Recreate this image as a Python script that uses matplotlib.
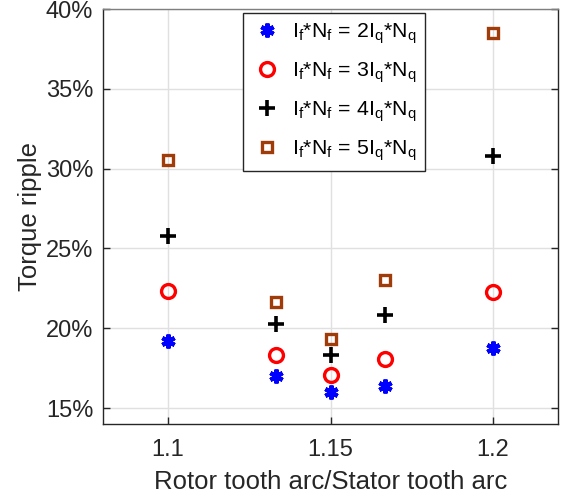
import matplotlib
matplotlib.use("Agg")
import matplotlib.pyplot as plt
from matplotlib.ticker import FuncFormatter

plt.rcParams['font.family'] = ['Liberation Sans', 'DejaVu Sans']
plt.rcParams['mathtext.fontset'] = 'custom'
plt.rcParams['mathtext.rm'] = 'Liberation Sans'
plt.rcParams['mathtext.it'] = 'Liberation Sans'

ratio = [1.1, 1.1333, 1.15, 1.1667, 1.2]
ripple_2 = [19.2, 17.0, 16.0, 16.35, 18.75]
ripple_3 = [22.35, 18.35, 17.05, 18.05, 22.3]
ripple_4 = [25.75, 20.25, 18.35, 20.85, 30.8]
ripple_5 = [30.55, 21.65, 19.35, 23.05, 38.5]
labels = [r'$\mathregular{I_f{*}N_f\,=\,2I_q{*}N_q}$',
          r'$\mathregular{I_f{*}N_f\,=\,3I_q{*}N_q}$',
          r'$\mathregular{I_f{*}N_f\,=\,4I_q{*}N_q}$',
          r'$\mathregular{I_f{*}N_f\,=\,5I_q{*}N_q}$']

fig = plt.figure(figsize=(5.61, 4.98), dpi=100)
ax = fig.add_axes([103/561, 74/498, 455/561, 415/498])

ax.plot(ratio, ripple_2, linestyle='none', marker=(6, 2, 0), markersize=10,
        markeredgewidth=3.0, color='#0000ff', label=labels[0])
ax.plot(ratio, ripple_3, linestyle='none', marker='o', markersize=10,
        markeredgewidth=2.4, markerfacecolor='none', markeredgecolor='#ff0000', label=labels[1])
ax.plot(ratio, ripple_4, linestyle='none', marker='+', markersize=11,
        markeredgewidth=2.6, color='#000000', label=labels[2])
ax.plot(ratio, ripple_5, linestyle='none', marker='s', markersize=7.5,
        markeredgewidth=2.4, markerfacecolor='none', markeredgecolor='#a03c0a', label=labels[3])

ax.set_xlim(1.08, 1.22)
ax.set_ylim(14, 40)
ax.set_xticks([1.1, 1.15, 1.2])
ax.set_xticklabels(['1.1', '1.15', '1.2'])
ax.set_yticks([15, 20, 25, 30, 35, 40])
ax.yaxis.set_major_formatter(FuncFormatter(lambda v, p: f'{int(round(v))}%'))
ax.grid(True, color='#e0e0e0', linewidth=1)
ax.set_axisbelow(True)
ax.tick_params(direction='in', length=5, width=1, labelsize=17, colors='#262626',
               top=False, right=True)
ax.tick_params(axis='y', pad=7)
ax.tick_params(axis='x', pad=11)
for s in ax.spines.values():
    s.set_color('#262626')
    s.set_linewidth(1)
ax.spines['top'].set_color('#7f7f7f')

ax.set_xlabel('Rotor tooth arc/Stator tooth arc', fontsize=18.5, color='#262626', labelpad=6)
ax.set_ylabel('Torque ripple', fontsize=18.5, color='#262626', labelpad=3)

leg = ax.legend(loc='upper left', bbox_to_anchor=((243 - 103) / 455, (424 - 13) / 415),
                fontsize=15.3, frameon=True, fancybox=False, borderpad=0.4,
                labelspacing=0.68, handletextpad=0.4, handlelength=1.5, borderaxespad=0)
leg.get_frame().set_edgecolor('#262626')
leg.get_frame().set_linewidth(1)
leg.get_frame().set_alpha(1)

fig.savefig('out.png', dpi=100)
